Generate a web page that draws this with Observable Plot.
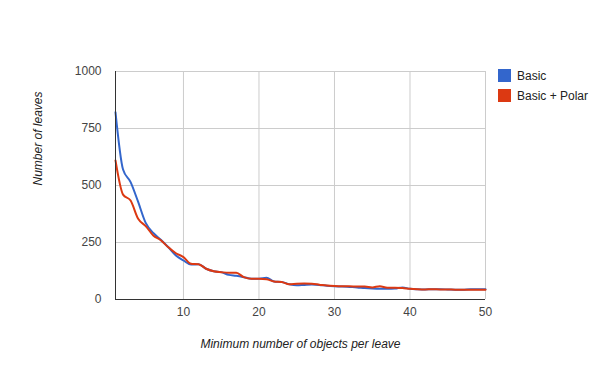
<!DOCTYPE html>
<html>
<head>
<meta charset="utf-8">
<script src="https://cdn.jsdelivr.net/npm/d3@7"></script>
<script src="https://cdn.jsdelivr.net/npm/@observablehq/plot@0.6"></script>
<style>
  html, body { margin: 0; padding: 0; background: #fff; }
  #wrap { position: relative; width: 600px; height: 371px; font-family: Arial, "Liberation Sans", sans-serif; }
  #legend { position: absolute; left: 498px; top: 69px; font-size: 12px; color: #222; }
  .item { display: flex; align-items: center; height: 13px; margin-bottom: 7px; }
  .sw { width: 13px; height: 13px; margin-right: 6px; }
</style>
</head>
<body>
<div id="wrap"><div id="legend"></div></div>
<script>
const minObjects = [1,2,3,4,5,6,7,8,9,10,11,12,13,14,15,16,17,18,19,20,21,22,23,24,25,26,27,28,29,30,31,32,33,34,35,36,37,38,39,40,41,42,43,44,45,46,47,48,49,50];
const basic = [821,570,515,428,336,292,262,229,193,171,153,155,135,124,120,108,104,98,91,91,95,79,77,67,62,64,66,64,60,58,57,55,53,50,48,47,47,48,53,47,45,44,45,45,44,43,43,45,45,45];
const basicPolar = [610,460,434,354,322,281,260,229,203,186,157,155,135,124,120,117,117,98,91,91,89,79,77,67,69,70,69,65,61,59,58,58,57,57,53,58,52,52,50,47,45,44,45,44,44,43,43,43,43,43];
const seriesNames = ["Basic", "Basic + Polar"];
const seriesColors = ["#3366cc", "#dc3912"];
const xTicks = [10, 20, 30, 40, 50];
const yTicks = [0, 250, 500, 750, 1000];

const rows = [];
minObjects.forEach((x, i) => {
  rows.push({x, y: basic[i], s: seriesNames[0]});
  rows.push({x, y: basicPolar[i], s: seriesNames[1]});
});

const chart = Plot.plot({
  width: 600,
  height: 371,
  marginLeft: 115,
  marginRight: 115,
  marginTop: 71,
  marginBottom: 72,
  style: {fontFamily: "Arial, 'Liberation Sans', sans-serif", fontSize: "12px", color: "#444", background: "#fff"},
  x: {domain: [1, 50]},
  y: {domain: [0, 1000]},
  color: {domain: seriesNames, range: seriesColors},
  marks: [
    Plot.gridX(xTicks, {stroke: "#cccccc", strokeOpacity: 1}),
    Plot.gridY(yTicks, {stroke: "#cccccc", strokeOpacity: 1}),
    Plot.axisX(xTicks, {tickSize: 0, tickPadding: 8, fill: "#444", fontSize: 12, label: null, tickFormat: d => String(d)}),
    Plot.axisY(yTicks, {tickSize: 0, tickPadding: 14, fill: "#444", fontSize: 12, label: null, tickFormat: d => String(d)}),
    Plot.text(["Minimum number of objects per leave"], {frameAnchor: "bottom", dy: 48, fontStyle: "italic", fill: "#222", fontSize: 12}),
    Plot.text(["Number of leaves"], {frameAnchor: "left", dx: -77, rotate: -90, fontStyle: "italic", fill: "#222", fontSize: 12}),
    Plot.line(rows, {x: "x", y: "y", stroke: "s", strokeWidth: 2, curve: "monotone-x"}),
    Plot.ruleX([1], {stroke: "#333"}),
    Plot.ruleY([0], {stroke: "#333"})
  ]
});
document.getElementById("wrap").prepend(chart);

const legend = document.getElementById("legend");
seriesNames.forEach((n, i) => {
  const d = document.createElement("div");
  d.className = "item";
  d.innerHTML = `<div class="sw" style="background:${seriesColors[i]}"></div><span>${n}</span>`;
  legend.appendChild(d);
});
</script>
</body>
</html>
